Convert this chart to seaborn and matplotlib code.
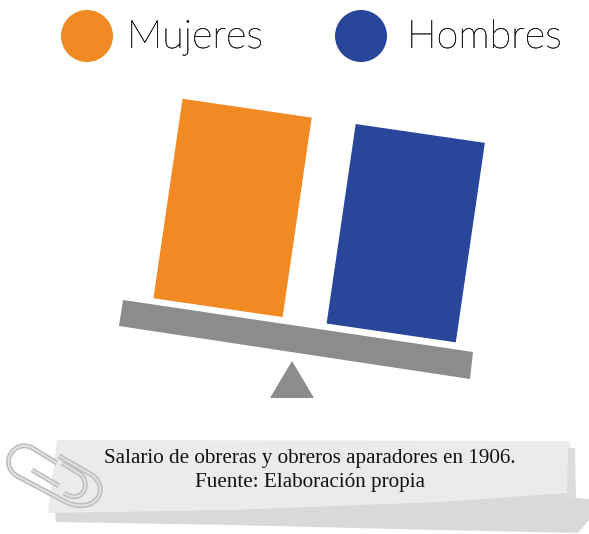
import matplotlib
matplotlib.use('Agg')
import matplotlib.pyplot as plt
import matplotlib.patheffects as pe
from matplotlib.patches import Circle, Polygon
from matplotlib.path import Path
from matplotlib.patches import PathPatch
from matplotlib.transforms import Affine2D
import pandas as pd
import seaborn as sns

# Data
categories = ['Mujeres', 'Hombres']
salaries = [1.0, 1.0]
bar_colors = ['#f28a24', '#28479b']
note_lines = ['Salario de obreras y obreros aparadores en 1906.', 'Fuente: Elaboración propia']

sns.set_theme(style='white')
W, H = 589, 534
fig = plt.figure(figsize=(W / 100, H / 100), dpi=100, facecolor='white')

# Bars, tilted afterwards around the middle of their base
ax = fig.add_axes([129.5 / W, (H - 321) / H, 350 / W, 203 / H])
df = pd.DataFrame({'sexo': categories, 'salario': salaries})
sns.barplot(data=df, x='sexo', y='salario', hue='sexo', palette=bar_colors,
            width=0.754, legend=False, saturation=1, ax=ax)
ax.set_xlim(-0.5, 1.5)
ax.set_ylim(0, 1)
ax.axis('off')
tilt = Affine2D().rotate_deg_around(304.5, H - 321, -8.3)
for bar in ax.patches:
    bar.set_transform(ax.transData + tilt)
    bar.set_clip_on(False)

# Overlay in pixel coordinates for the decoration
deco = fig.add_axes([0, 0, 1, 1], zorder=-1)
deco.set_xlim(0, W)
deco.set_ylim(H, 0)
deco.axis('off')
top = fig.add_axes([0, 0, 1, 1], zorder=5)
top.set_xlim(0, W)
top.set_ylim(H, 0)
top.axis('off')
top.patch.set_alpha(0)

# Legend
for cx, color, name, tx in zip([87, 361], bar_colors, categories, [127, 407]):
    top.add_patch(Circle((cx, 36), 26, color=color, lw=0))
    top.text(tx, 37, name, fontsize=28.5, family='Lato', weight='light', color='#111111', va='center',
             path_effects=[pe.withStroke(linewidth=0.3, foreground='#111111')])

# Balance
deco.add_patch(Polygon([(123, 300), (473, 352), (470, 379), (119, 326)], color='#8c8c8c', lw=0))
deco.add_patch(Polygon([(292, 361), (314, 398), (270, 398)], color='#8c8c8c', lw=0))

# Note: shadow, fold, sheet
deco.add_patch(Polygon([(55, 512), (230, 508), (440, 500), (567, 491), (577, 498), (589, 499), (589, 520), (578, 533),
                        (440, 530), (230, 525), (56, 522)], color='#d9d9d9', lw=0))
deco.add_patch(Polygon([(565, 447), (575, 448), (576, 499), (565, 499)], color='#dcdcdc', lw=0))
deco.add_patch(Polygon([(57, 440), (569, 441), (571, 447), (568, 449), (567, 493), (440, 502), (230, 510),
                        (48, 513)], color='#ebebeb', lw=0))
top.text(310, 458, note_lines[0], fontsize=15.2, family='Liberation Serif', color='#111111', ha='center', va='center')
top.text(310, 482, note_lines[1], fontsize=15.2, family='Liberation Serif', color='#111111', ha='center', va='center')

# Paperclip
M, L, C = Path.MOVETO, Path.LINETO, Path.CURVE4
wire_outer = ([(59, 456), (92, 475), (103, 483), (103, 497), (92, 503), (84, 507), (74, 506), (66, 502),
               (17, 476), (7, 470), (6, 458), (13, 451), (18, 445), (27, 444), (34, 449), (57, 463)],
              [M, L, C, C, C, C, C, C, L, C, C, C, C, C, C, L])
wire_inner = ([(32, 470), (59, 486)], [M, L])
wire_end = ([(62, 463), (80, 474), (87, 479), (87, 491), (80, 495), (75, 498), (70, 497), (64, 493)],
            [M, L, C, C, C, C, C, C])
for verts, codes in [wire_outer, wire_inner, wire_end]:
    for edge, lw in [('#bdbdbd', 3.6), ('#e2e2e2', 1.4)]:
        top.add_patch(PathPatch(Path(verts, codes), fill=False, edgecolor=edge, lw=lw, capstyle='butt'))

fig.savefig('out.png', dpi=100)
